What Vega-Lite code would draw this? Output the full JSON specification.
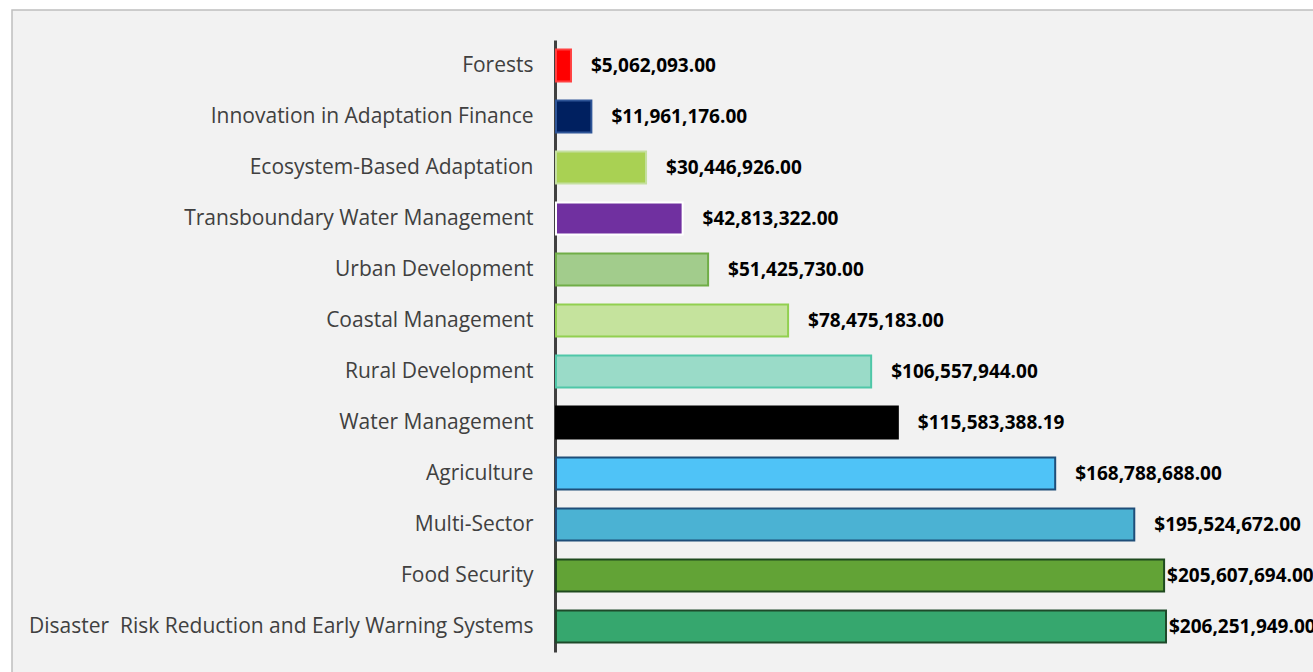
{
  "$schema": "https://vega.github.io/schema/vega-lite/v6.json",
  "width": 1302,
  "height": 663,
  "autosize": {"type": "none"},
  "padding": {"left": 12, "top": 10, "right": 0, "bottom": 0},
  "background": "#ffffff",
  "config": {
    "view": {"fill": "#f2f2f2", "stroke": "#bfbfbf", "strokeWidth": 1.5}
  },
  "data": {
    "values": [
      {"sector": "Forests", "amount": 5062093.00},
      {"sector": "Innovation in Adaptation Finance", "amount": 11961176.00},
      {"sector": "Ecosystem-Based Adaptation", "amount": 30446926.00},
      {"sector": "Transboundary Water Management", "amount": 42813322.00},
      {"sector": "Urban Development", "amount": 51425730.00},
      {"sector": "Coastal Management", "amount": 78475183.00},
      {"sector": "Rural Development", "amount": 106557944.00},
      {"sector": "Water Management", "amount": 115583388.19},
      {"sector": "Agriculture", "amount": 168788688.00},
      {"sector": "Multi-Sector", "amount": 195524672.00},
      {"sector": "Food Security", "amount": 205607694.00},
      {"sector": "Disaster\u00a0 Risk Reduction and Early Warning Systems", "amount": 206251949.00}
    ]
  },
  "encoding": {
    "y": {
      "field": "sector",
      "type": "nominal",
      "sort": null,
      "scale": {"range": [30, 642], "paddingInner": 0.37, "paddingOuter": 0.185},
      "axis": {
        "title": null,
        "orient": "left",
        "offset": -543,
        "ticks": false,
        "tickSize": 0,
        "labelPadding": 22,
        "labelFont": "Open Sans",
        "labelFontSize": 21,
        "labelColor": "#404040",
        "labelAlign": "right",
        "labelLimit": 0,
        "domainColor": "#404040",
        "domainWidth": 3,
        "grid": false
      }
    },
    "x": {
      "field": "amount",
      "type": "quantitative",
      "scale": {"domain": [0, 206251949], "range": [544, 1154], "nice": false, "zero": true},
      "axis": null
    }
  },
  "layer": [
    {
      "mark": {"type": "bar", "strokeWidth": 2},
      "encoding": {
        "fill": {
          "field": "sector",
          "type": "nominal",
          "legend": null,
          "scale": {
            "domain": ["Forests", "Innovation in Adaptation Finance", "Ecosystem-Based Adaptation", "Transboundary Water Management", "Urban Development", "Coastal Management", "Rural Development", "Water Management", "Agriculture", "Multi-Sector", "Food Security", "Disaster\u00a0 Risk Reduction and Early Warning Systems"],
            "range": ["#ff0000", "#002060", "#a9d153", "#7030a0", "#a2cc8c", "#c5e39d", "#9adbc8", "#000000", "#4fc3f7", "#4bb2d3", "#62a336", "#36a76e"]
          }
        },
        "stroke": {
          "field": "sector",
          "type": "nominal",
          "legend": null,
          "scale": {
            "domain": ["Forests", "Innovation in Adaptation Finance", "Ecosystem-Based Adaptation", "Transboundary Water Management", "Urban Development", "Coastal Management", "Rural Development", "Water Management", "Agriculture", "Multi-Sector", "Food Security", "Disaster\u00a0 Risk Reduction and Early Warning Systems"],
            "range": ["#ff4040", "#2f5597", "#c5e0a0", "#ffffff", "#70ad47", "#92d050", "#4fc7a8", "#000000", "#1f4e79", "#1f4e79", "#1e4a1e", "#1e4a2a"]
          }
        }
      }
    },
    {
      "transform": [{"filter": "datum.amount < 200000000"}],
      "mark": {"type": "text", "align": "left", "baseline": "middle", "dx": 20, "font": "Open Sans", "fontWeight": "bold", "fontSize": 19, "color": "#000000"},
      "encoding": {
        "text": {"field": "amount", "type": "quantitative", "format": "$,.2f"}
      }
    },
    {
      "transform": [{"filter": "datum.amount >= 200000000"}],
      "mark": {"type": "text", "align": "left", "baseline": "middle", "dx": 3, "font": "Open Sans", "fontWeight": "bold", "fontSize": 19, "color": "#000000"},
      "encoding": {
        "text": {"field": "amount", "type": "quantitative", "format": "$,.2f"}
      }
    }
  ]
}
